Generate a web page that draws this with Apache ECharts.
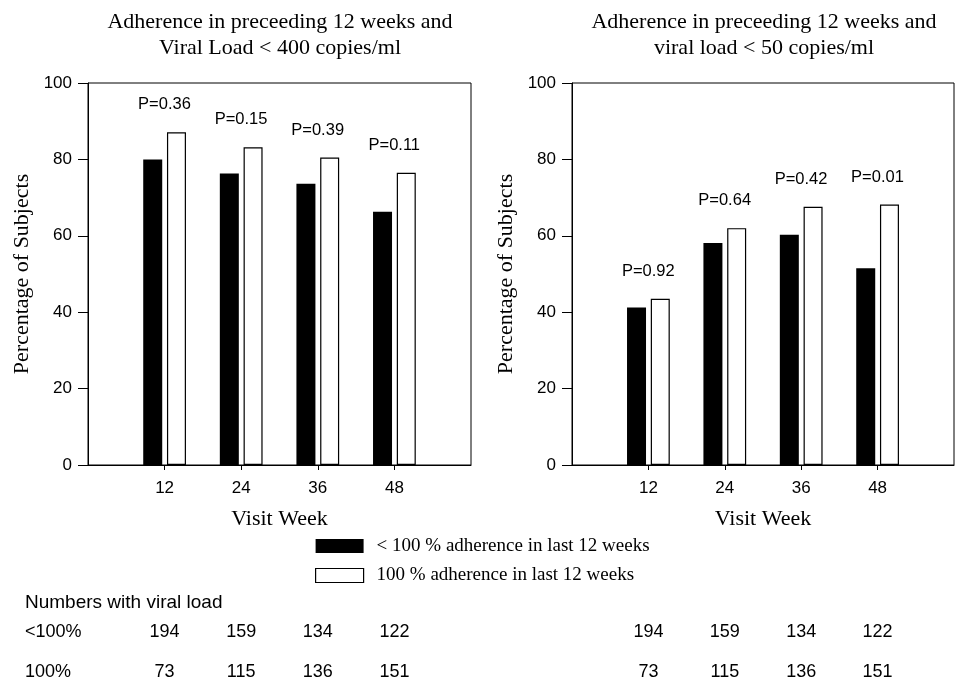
<!DOCTYPE html>
<html>
<head>
<meta charset="utf-8">
<script src="https://cdn.jsdelivr.net/npm/echarts@6/dist/echarts.min.js"></script>
<style>
html,body{margin:0;padding:0;background:#fff;}
#chart{width:959px;height:680px;}
</style>
</head>
<body>
<div id="chart"></div>
<script>
// ---- data ----
const axisCats = ['0', '12', '24', '36', '48', '60'];
const weeks = ['12', '24', '36', '48'];
const seriesNames = ['< 100 % adherence in last 12 weeks', '100 % adherence in last 12 weeks'];
const leftLt100 = [80.0, 76.3, 73.6, 66.3];
const left100 = [87.1, 83.2, 80.5, 76.5];
const rightLt100 = [41.2, 58.1, 60.3, 51.5];
const right100 = [43.5, 62.0, 67.6, 68.2];
const pLeft = ['P=0.36', 'P=0.15', 'P=0.39', 'P=0.11'];
const pRight = ['P=0.92', 'P=0.64', 'P=0.42', 'P=0.01'];
const titleLeft = 'Adherence in preceeding 12 weeks and\nViral Load < 400 copies/ml';
const titleRight = 'Adherence in preceeding 12 weeks and\nviral load < 50 copies/ml';
const yName = 'Percentage of Subjects';
const xName = 'Visit Week';
const tableHeader = 'Numbers with viral load';
const rowLabels = ['<100%', '100%'];
const countsLt100 = [194, 159, 134, 122];
const counts100 = [73, 115, 136, 151];

// ---- styles ----
const SANS = 'Liberation Sans';
const SERIF = 'Liberation Serif';

const chart = echarts.init(document.getElementById('chart'), null, {renderer: 'canvas'});

function xAxis(gridIndex) {
  return {
    type: 'category', gridIndex, data: axisCats, boundaryGap: false,
    name: xName, nameLocation: 'middle', nameGap: 43,
    nameTextStyle: {fontFamily: SERIF, fontSize: 22, color: '#000'},
    axisLine: {lineStyle: {color: '#000', width: 1}},
    axisTick: {length: 5, lineStyle: {color: '#000'}, interval: (i) => i >= 1 && i <= 4},
    axisLabel: {interval: (i) => i >= 1 && i <= 4, margin: 15, fontFamily: SANS, fontSize: 17, color: '#000'},
    splitLine: {show: false}
  };
}
function yAxis(gridIndex) {
  return {
    type: 'value', gridIndex, min: 0, max: 100, interval: 20,
    name: yName, nameLocation: 'middle', nameGap: 55,
    nameTextStyle: {fontFamily: SERIF, fontSize: 22, color: '#000'},
    axisLine: {show: true, lineStyle: {color: '#000', width: 1}},
    axisTick: {show: true, length: 10, lineStyle: {color: '#000'}},
    axisLabel: {margin: 16, fontFamily: SANS, fontSize: 17, color: '#000'},
    splitLine: {show: false}
  };
}
const blackStyle = {color: '#000'};
const whiteStyle = {color: '#fff', borderColor: '#000', borderWidth: 1.2};

function pairSeries(idx, lt, full, pvals) {
  return [
    {
      name: seriesNames[0], type: 'bar', xAxisIndex: idx, yAxisIndex: idx,
      barWidth: 19, barGap: '25%', itemStyle: blackStyle,
      data: weeks.map((w, i) => [w, lt[i]])
    },
    {
      name: seriesNames[1], type: 'bar', xAxisIndex: idx, yAxisIndex: idx,
      barWidth: 19, barGap: '25%', itemStyle: whiteStyle,
      label: {
        show: true, position: 'top', distance: 19, offset: [-12, 0],
        fontFamily: SANS, fontSize: 16.5, color: '#000',
        formatter: (p) => pvals[p.dataIndex]
      },
      data: weeks.map((w, i) => [w, full[i]])
    }
  ];
}

const titleStyle = {fontFamily: SERIF, fontSize: 22, fontWeight: 'normal', color: '#000', lineHeight: 26};

chart.setOption({
  animation: false,
  backgroundColor: '#fff',
  title: [
    {text: titleLeft, left: 275, top: 4, textAlign: 'center', textStyle: titleStyle},
    {text: titleRight, left: 759, top: 4, textAlign: 'center', textStyle: titleStyle}
  ],
  legend: {
    orient: 'vertical', left: 310, top: 531, itemWidth: 48, itemHeight: 14, itemGap: 9.5,
    icon: 'rect', selectedMode: false,
    textStyle: {fontFamily: SERIF, fontSize: 19, color: '#000', lineHeight: 20, padding: [0, 0, 0, 8]},
    data: [
      {name: seriesNames[0], itemStyle: {color: '#000', borderWidth: 0}},
      {name: seriesNames[1], itemStyle: {color: '#fff', borderColor: '#000', borderWidth: 1.2}}
    ]
  },
  grid: [
    {left: 88, top: 83, width: 383, height: 382, show: true, borderColor: '#000', borderWidth: 1, backgroundColor: 'transparent'},
    {left: 572, top: 83, width: 382, height: 382, show: true, borderColor: '#000', borderWidth: 1, backgroundColor: 'transparent'}
  ],
  xAxis: [xAxis(0), xAxis(1)],
  yAxis: [yAxis(0), yAxis(1)],
  series: [].concat(pairSeries(0, leftLt100, left100, pLeft), pairSeries(1, rightLt100, right100, pRight))
});

// ---- table of numbers, placed under the category ticks ----
function txt(text, x, y, align, size) {
  return {
    type: 'text', silent: true,
    style: {
      text: String(text), x, y,
      align: align, textAlign: align, verticalAlign: 'middle', textVerticalAlign: 'middle',
      font: (size || 18) + 'px "Liberation Sans"', fill: '#000'
    }
  };
}
const graphics = [
  txt(tableHeader, 25, 603, 'left', 19),
  txt(rowLabels[0], 25, 632, 'left'),
  txt(rowLabels[1], 25, 672, 'left')
];
[0, 1].forEach((gi) => {
  weeks.forEach((w, i) => {
    const x = chart.convertToPixel({xAxisIndex: gi}, w);
    graphics.push(txt(countsLt100[i], x, 632, 'center'));
    graphics.push(txt(counts100[i], x, 672, 'center'));
  });
});
chart.setOption({graphic: graphics});
</script>
</body>
</html>
